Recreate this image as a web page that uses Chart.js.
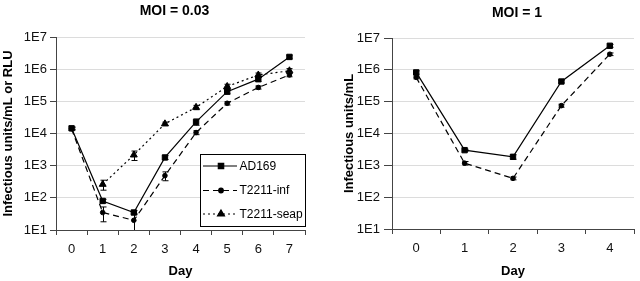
<!DOCTYPE html>
<html><head><meta charset="utf-8">
<script src="https://cdn.jsdelivr.net/npm/chart.js@4.4.1/dist/chart.umd.min.js"></script>
<style>
html,body{margin:0;padding:0;background:#fff;overflow:hidden}
#w{position:relative;width:640px;height:281px}
canvas{position:absolute;top:0}
</style></head>
<body><div id="w">
<canvas id="c1" width="320" height="281" style="left:0"></canvas>
<canvas id="c2" width="320" height="281" style="left:320px"></canvas>
</div>
<script>
// ---- Data: MOI = 0.03 ----
const days03 = ['0','1','2','3','4','5','6','7'];
const ad169_03 = [14500, 80, 35, 1800, 23000, 200000, 490000, 2400000];
const ad169_03_err = [1500, 10, 5, 250, 5000, 30000, 80000, 300000];
const inf_03 = [14000, 35, 20, 490, 10700, 87000, 270000, 660000];
const inf_03_err = [1000, 17, 12, 150, 1500, 10000, 30000, 80000];
const seap_03 = [null, 263, 2150, 20000, 65000, 290000, 660000, 890000];
const seap_03_err = [null, 90, 700, 2500, 10000, 50000, 100000, 150000];

// ---- Data: MOI = 1 ----
const days1 = ['0','1','2','3','4'];
const ad169_1 = [830000, 3000, 1850, 430000, 5700000];
const ad169_1_err = [100000, 200, 300, 40000, 600000];
const inf_1 = [580000, 1170, 390, 75000, 3100000];
const inf_1_err = [60000, 150, 40, 8000, 300000];

// ---- Tick labels / text ----
const yExponents = [1, 2, 3, 4, 5, 6, 7];
const title03 = 'MOI = 0.03';
const title1 = 'MOI = 1';
const yTitle03 = 'Infectious units/mL or RLU';
const yTitle1 = 'Infectious units/mL';
const xTitle = 'Day';
const seriesNames = ['AD169', 'T2211-inf', 'T2211-seap'];

const FONT = "'Liberation Sans', Arial, sans-serif";
Chart.defaults.font.family = FONT;

const STYLES = [
  {dash: [], pointStyle: 'rect', r: 3.8},
  {dash: [6, 4], pointStyle: 'circle', r: 2.3},
  {dash: [2, 3], pointStyle: 'triangle', r: 4.0}
];

function ds(i, data, err) {
  const s = STYLES[i];
  return {
    label: seriesNames[i], data: data, err: err,
    borderColor: '#000', backgroundColor: '#000', borderWidth: 1.2,
    borderDash: s.dash, pointStyle: s.pointStyle, pointRadius: s.r,
    pointBorderWidth: 1, pointBorderColor: '#000', pointBackgroundColor: '#000',
    tension: 0, spanGaps: false
  };
}

const errorBars = {
  id: 'errorBars',
  afterDatasetsDraw(chart) {
    const ctx = chart.ctx, y = chart.scales.y, x = chart.scales.x;
    const ca = chart.chartArea;
    ctx.save();
    ctx.strokeStyle = '#000'; ctx.lineWidth = 1; ctx.setLineDash([]);
    chart.data.datasets.forEach(d => {
      if (!d.err) return;
      d.data.forEach((v, i) => {
        const e = d.err[i];
        if (v == null || e == null) return;
        const px = Math.round(x.getPixelForValue(i)) + 0.5;
        const top = Math.max(ca.top, y.getPixelForValue(v + e));
        const low = v - e;
        const bot = low > 0 ? Math.min(ca.bottom, y.getPixelForValue(low)) : ca.bottom;
        ctx.beginPath();
        ctx.moveTo(px, top); ctx.lineTo(px, bot);
        ctx.moveTo(px - 3, top); ctx.lineTo(px + 3, top);
        if (low > 0 && bot < ca.bottom) { ctx.moveTo(px - 3, bot); ctx.lineTo(px + 3, bot); }
        ctx.stroke();
      });
    });
    ctx.restore();
  }
};

const titlePlugin = {
  id: 'myTitle',
  afterDraw(chart, args, opts) {
    const ctx = chart.ctx;
    ctx.save();
    ctx.font = 'bold 14px ' + FONT;
    ctx.fillStyle = '#000';
    ctx.textAlign = 'center'; ctx.textBaseline = 'middle';
    ctx.fillText(opts.text, opts.x, opts.y);
    ctx.restore();
  }
};

const legendPlugin = {
  id: 'myLegend',
  afterDraw(chart, args, opts) {
    if (!opts.show) return;
    const ctx = chart.ctx;
    const L = 200.5, T = 154.5, W = 105, H = 72;
    ctx.save();
    ctx.fillStyle = '#fff';
    ctx.fillRect(L, T, W, H);
    ctx.strokeStyle = '#000'; ctx.lineWidth = 1;
    ctx.strokeRect(L, T, W, H);
    const rows = [166, 190.5, 214];
    chart.data.datasets.forEach((d, i) => {
      const yy = rows[i];
      ctx.strokeStyle = '#000'; ctx.lineWidth = 1.2;
      ctx.setLineDash(d.borderDash);
      ctx.beginPath(); ctx.moveTo(203, yy); ctx.lineTo(237, yy); ctx.stroke();
      ctx.setLineDash([]);
      Chart.helpers.drawPoint(ctx, {pointStyle: d.pointStyle, radius: d.pointRadius, borderWidth: 1}, 221, yy);
      ctx.fillStyle = '#000';
      ctx.fill();
      ctx.font = '12px ' + FONT;
      ctx.textAlign = 'left'; ctx.textBaseline = 'middle';
      ctx.fillText(d.label, 239.5, yy + 0.5);
    });
    ctx.restore();
  }
};

function makeChart(id, labels, datasets, o) {
  return new Chart(document.getElementById(id), {
    type: 'line',
    data: {labels: labels, datasets: datasets},
    plugins: [errorBars, titlePlugin, legendPlugin],
    options: {
      responsive: false, animation: false, devicePixelRatio: 1,
      layout: {padding: {left: 0, right: o.padRight, top: o.padTop, bottom: 0}},
      plugins: {
        legend: {display: false}, tooltip: {enabled: false}, title: {display: false},
        myTitle: {text: o.title, x: o.titleX, y: o.titleY},
        myLegend: {show: o.legend}
      },
      scales: {
        x: {
          type: 'category', offset: true,
          grid: {offset: true, drawOnChartArea: false, color: '#444', tickLength: 5},
          border: {color: '#444', width: 1},
          ticks: {font: {size: 13}, color: '#111', padding: 7, maxRotation: 0, autoSkip: false},
          title: {display: true, text: xTitle, color: '#000', font: {size: 13, weight: 'bold'}, padding: {top: 0, bottom: 2}},
          afterFit: s => { s.height = o.xh; }
        },
        y: {
          type: 'logarithmic', min: 10, max: 1e7,
          afterBuildTicks: s => { s.ticks = yExponents.map(e => ({value: Math.pow(10, e)})); },
          ticks: {callback: v => '1E' + Math.round(Math.log10(v)), font: {size: 13}, color: '#111', padding: o.yTickPad},
          grid: {color: c => (c.tick && c.tick.value === 10) ? 'rgba(0,0,0,0)' : '#dcdcdc', tickColor: '#444', tickLength: o.yTickLen},
          border: {color: '#444', width: 1},
          title: {display: true, text: o.yTitle, color: '#000', font: {size: 13, weight: 'bold'}, padding: {top: o.yTitlePad, bottom: 0}},
          afterFit: s => { s.width = o.yw; }
        }
      }
    }
  });
}

makeChart('c1', days03, [
  ds(0, ad169_03, ad169_03_err),
  ds(1, inf_03, inf_03_err),
  ds(2, seap_03, seap_03_err)
], {padRight: 15, padTop: 37, xh: 51, yw: 56, yTickPad: 3, yTickLen: 6, yTitlePad: 1,
    yTitle: yTitle03, title: title03, titleX: 174.5, titleY: 11, legend: true});

makeChart('c2', days1, [
  ds(0, ad169_1, ad169_1_err),
  ds(1, inf_1, inf_1_err)
], {padRight: 6, padTop: 38, xh: 52, yw: 72, yTickPad: 4, yTickLen: 8, yTitlePad: 22,
    yTitle: yTitle1, title: title1, titleX: 197, titleY: 13, legend: false});
</script>
</body></html>
